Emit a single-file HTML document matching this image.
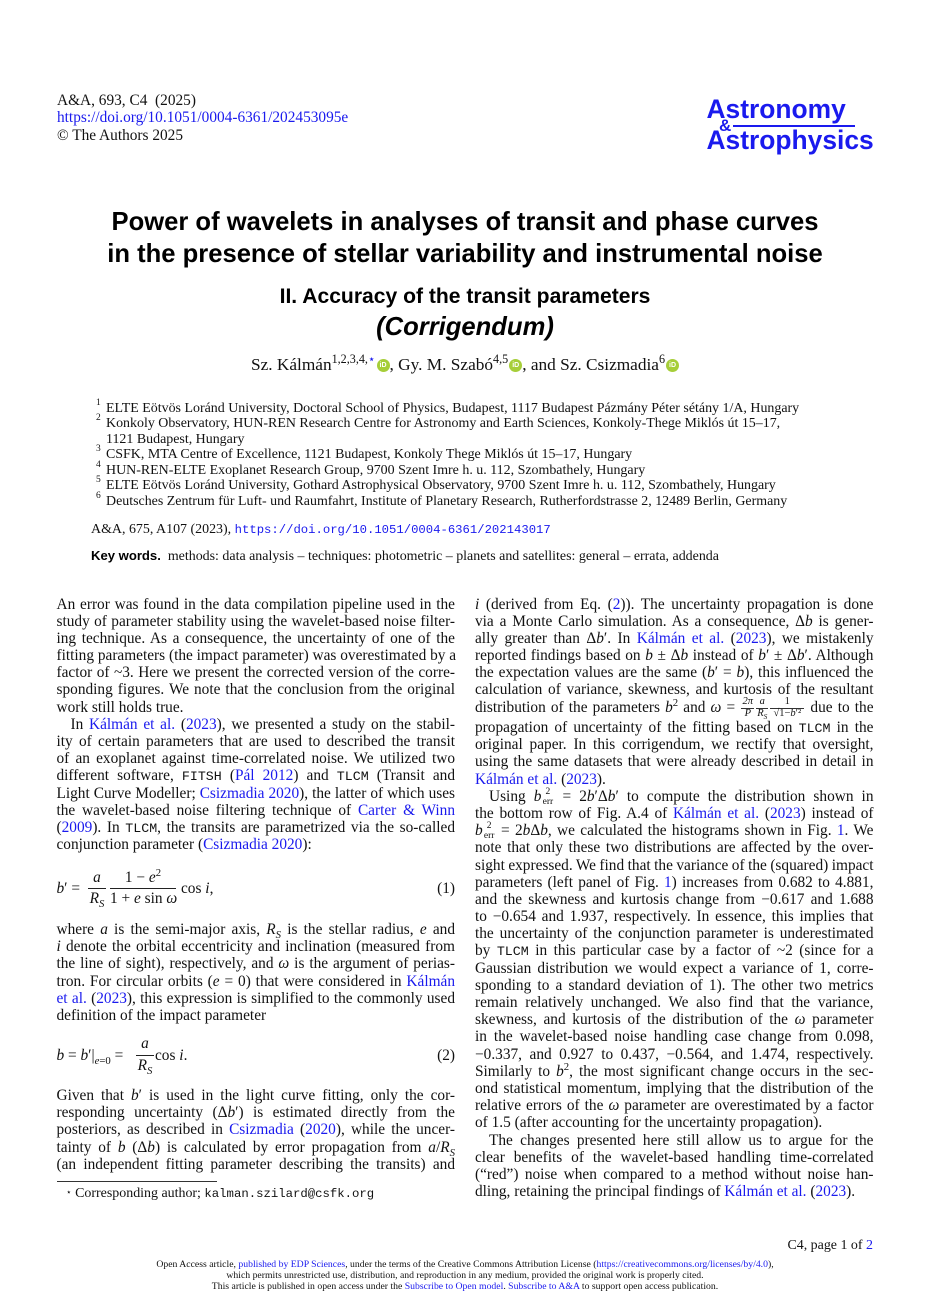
<!DOCTYPE html>
<html><head><meta charset="utf-8"><title>A&amp;A 693, C4</title>
<style>
html,body{margin:0;padding:0;background:#fff}
body{position:relative;width:930px;height:1316px;overflow:hidden;font-family:"Liberation Serif",serif;color:#111;font-size:15.35px}
a,.b{color:#1a1aee;text-decoration:none}
.a{position:absolute;white-space:nowrap;line-height:17px}
.c{left:0;width:930px;text-align:center}
.s{font-family:"Liberation Sans",sans-serif;font-weight:bold}
.col{position:absolute;width:398.5px}
.col div{height:17.19px;line-height:17.19px;white-space:nowrap;text-align:justify;text-align-last:justify}
.col div.e{text-align-last:left}
.col div.in{text-indent:0;padding-left:14px;width:384.5px}
tt{font-family:"Liberation Mono",monospace;font-size:13.3px}
sup,sub{font-size:.7em;line-height:0}
.f{display:inline-block;position:relative;height:0;vertical-align:baseline;text-indent:0;margin:0 1px}
.f>span{position:absolute;left:0;right:0;text-align:center;text-align-last:center;line-height:10px;font-size:10.5px}
.f>span.n{top:-14.5px}
.f>span.d{top:-3px}
.f>span.m{top:-4px;height:1px;background:#333}
.f>span.t{top:-14px;font-size:9.5px}
.f>span.u{top:-4px;font-size:9.5px}
.r{position:absolute;background:#222;height:1px}
.aff{font-size:13.95px}
.oc{display:inline-block;width:13px;height:13px;overflow:hidden;border-radius:50%;background:#a6ce39;vertical-align:-2px;margin-left:1px;color:#fff;font:bold 7px/13px "Liberation Sans",sans-serif;text-align:center}
.ft{font-size:9.73px;line-height:11px}
</style></head><body>

<div class="a" style="left:57px;top:91.5px">A&amp;A, 693, C4&nbsp; (2025)</div>
<div class="a" style="left:57px;top:109px"><a>https://doi.org/10.1051/0004-6361/202453095e</a></div>
<div class="a" style="left:57px;top:126.5px">© The Authors 2025</div>

<div class="a s b" style="left:706.5px;top:94px;font-size:26.4px;line-height:30px">Astronomy</div>
<div class="a s b" style="left:719px;top:117px;font-size:17px;line-height:18px">&amp;</div>
<div class="r" style="left:733px;top:124.5px;width:122px;height:2px;background:#1a1aee"></div>
<div class="a s b" style="left:706.5px;top:125px;font-size:26.4px;line-height:30px">Astrophysics</div>

<div class="a c s" style="top:207px;font-size:25.6px;line-height:30px;font-weight:bold;color:#000">Power of wavelets in analyses of transit and phase curves</div>
<div class="a c s" style="top:239px;font-size:25.6px;line-height:30px;color:#000">in the presence of stellar variability and instrumental noise</div>
<div class="a c s" style="top:285px;font-size:21.1px;line-height:24px;color:#000">II. Accuracy of the transit parameters</div>
<div class="a c s" style="top:312px;font-size:25.6px;line-height:30px;font-style:italic;color:#000">(Corrigendum)</div>

<div class="a c" style="top:356px;font-size:17.3px;line-height:18px">Sz. Kálmán<sup>1,2,3,4,<span class="b">⋆</span></sup><span class="oc">iD</span>, Gy. M. Szabó<sup>4,5</sup><span class="oc">iD</span>, and Sz. Csizmadia<sup>6</sup><span class="oc">iD</span></div>

<div class="aff">
<div class="a" style="left:96px;top:395px;font-size:9.5px">1</div><div class="a" style="left:106px;top:399.5px">ELTE Eötvös Loránd University, Doctoral School of Physics, Budapest, 1117 Budapest Pázmány Péter sétány 1/A, Hungary</div>
<div class="a" style="left:96px;top:410px;font-size:9.5px">2</div><div class="a" style="left:106px;top:415px">Konkoly Observatory, HUN-REN Research Centre for Astronomy and Earth Sciences, Konkoly-Thege Miklós út 15–17,</div>
<div class="a" style="left:106px;top:430.5px">1121 Budapest, Hungary</div>
<div class="a" style="left:96px;top:441px;font-size:9.5px">3</div><div class="a" style="left:106px;top:446px">CSFK, MTA Centre of Excellence, 1121 Budapest, Konkoly Thege Miklós út 15–17, Hungary</div>
<div class="a" style="left:96px;top:457px;font-size:9.5px">4</div><div class="a" style="left:106px;top:461.5px">HUN-REN-ELTE Exoplanet Research Group, 9700 Szent Imre h. u. 112, Szombathely, Hungary</div>
<div class="a" style="left:96px;top:472px;font-size:9.5px">5</div><div class="a" style="left:106px;top:477px">ELTE Eötvös Loránd University, Gothard Astrophysical Observatory, 9700 Szent Imre h. u. 112, Szombathely, Hungary</div>
<div class="a" style="left:96px;top:488px;font-size:9.5px">6</div><div class="a" style="left:106px;top:492.5px">Deutsches Zentrum für Luft- und Raumfahrt, Institute of Planetary Research, Rutherfordstrasse 2, 12489 Berlin, Germany</div>
<div class="a" style="left:91px;top:521px">A&amp;A, 675, A107 (2023), <a style="font-family:'Liberation Mono',monospace;font-size:12.25px">https://doi.org/10.1051/0004-6361/202143017</a></div>
<div class="a" style="left:91px;top:546.5px"><span class="s" style="font-size:13.1px;color:#000">Key words.</span>&nbsp; methods: data analysis – techniques: photometric – planets and satellites: general – errata, addenda</div>
</div>

<div class="col" style="left:56.5px;top:595.5px">
<div>An error was found in the data compilation pipeline used in the</div>
<div>study of parameter stability using the wavelet-based noise filter-</div>
<div>ing technique. As a consequence, the uncertainty of one of the</div>
<div>fitting parameters (the impact parameter) was overestimated by a</div>
<div>factor of ~3. Here we present the corrected version of the corre-</div>
<div>sponding figures. We note that the conclusion from the original</div>
<div class="e">work still holds true.</div>
<div class="in">In <a>Kálmán et al.</a> (<a>2023</a>), we presented a study on the stabil-</div>
<div>ity of certain parameters that are used to described the transit</div>
<div>of an exoplanet against time-correlated noise. We utilized two</div>
<div>different software, <tt>FITSH</tt> (<a>Pál 2012</a>) and <tt>TLCM</tt> (Transit and</div>
<div>Light Curve Modeller; <a>Csizmadia 2020</a>), the latter of which uses</div>
<div>the wavelet-based noise filtering technique of <a>Carter &amp; Winn</a></div>
<div>(<a>2009</a>). In <tt>TLCM</tt>, the transits are parametrized via the so-called</div>
<div class="e">conjunction parameter (<a>Csizmadia 2020</a>):</div>
</div>

<!-- eq 1 -->
<div class="a" style="left:56.5px;top:879.5px"><i>b</i>′ =</div>
<div class="a" style="left:85px;width:24px;text-align:center;top:869px"><i>a</i></div>
<div class="r" style="left:88px;top:888px;width:18px"></div>
<div class="a" style="left:85px;width:24px;text-align:center;top:890px"><i>R<sub>S</sub></i></div>
<div class="a" style="left:110px;width:66px;text-align:center;top:869px">1 − <i>e</i><sup>2</sup></div>
<div class="r" style="left:110px;top:888px;width:66px"></div>
<div class="a" style="left:110px;width:66px;text-align:center;top:890px">1 + <i>e</i> sin <i>ω</i></div>
<div class="a" style="left:181px;top:879.5px">cos <i>i</i>,</div>
<div class="a" style="right:475px;top:879.5px">(1)</div>

<div class="col" style="left:56.5px;top:921px">
<div>where <i>a</i> is the semi-major axis, <i>R<sub>S</sub></i> is the stellar radius, <i>e</i> and</div>
<div><i>i</i> denote the orbital eccentricity and inclination (measured from</div>
<div>the line of sight), respectively, and <i>ω</i> is the argument of perias-</div>
<div>tron. For circular orbits (<i>e</i> = 0) that were considered in <a>Kálmán</a></div>
<div><a>et al.</a> (<a>2023</a>), this expression is simplified to the commonly used</div>
<div class="e">definition of the impact parameter</div>
</div>

<!-- eq 2 -->
<div class="a" style="left:56.5px;top:1046.5px"><i>b</i> = <i>b</i>′|<sub><i>e</i>=0</sub> =</div>
<div class="a" style="left:133px;width:24px;text-align:center;top:1035px"><i>a</i></div>
<div class="r" style="left:136px;top:1055px;width:18px"></div>
<div class="a" style="left:133px;width:24px;text-align:center;top:1057px"><i>R<sub>S</sub></i></div>
<div class="a" style="left:155px;top:1046.5px">cos <i>i</i>.</div>
<div class="a" style="right:475px;top:1046.5px">(2)</div>

<div class="col" style="left:56.5px;top:1087px">
<div>Given that <i>b</i>′ is used in the light curve fitting, only the cor-</div>
<div>responding uncertainty (Δ<i>b</i>′) is estimated directly from the</div>
<div>posteriors, as described in <a>Csizmadia</a> (<a>2020</a>), while the uncer-</div>
<div>tainty of <i>b</i> (Δ<i>b</i>) is calculated by error propagation from <i>a</i>/<i>R<sub>S</sub></i></div>
<div>(an independent fitting parameter describing the transits) and</div>
</div>

<div class="r" style="left:56.5px;top:1181px;width:160px;background:#333"></div>
<div class="a" style="left:66px;top:1184px;font-size:13.95px"><span style="font-size:9px;vertical-align:2px">⋆</span> Corresponding author; <tt style="font-size:12.3px">kalman.szilard@csfk.org</tt></div>

<div class="col" style="left:475px;top:595.5px">
<div><i>i</i> (derived from Eq. (<a>2</a>)). The uncertainty propagation is done</div>
<div>via a Monte Carlo simulation. As a consequence, Δ<i>b</i> is gener-</div>
<div>ally greater than Δ<i>b</i>′. In <a>Kálmán et al.</a> (<a>2023</a>), we mistakenly</div>
<div>reported findings based on <i>b</i> ± Δ<i>b</i> instead of <i>b</i>′ ± Δ<i>b</i>′. Although</div>
<div>the expectation values are the same (<i>b</i>′ = <i>b</i>), this influenced the</div>
<div>calculation of variance, skewness, and kurtosis of the resultant</div>
<div>distribution of the parameters <i>b</i><sup>2</sup> and <i>ω</i> = <span class="f" style="width:13px"><span class="n"><i>2π</i></span><span class="m"></span><span class="d"><i>P</i></span></span><span class="f" style="width:12px"><span class="n"><i>a</i></span><span class="m"></span><span class="d"><i>R<sub>S</sub></i></span></span><span class="f" style="width:34px"><span class="n">1</span><span class="m"></span><span class="d">√1−<i>b</i>′²</span></span> due to the</div>
</div>

<div class="col" style="left:475px;top:719px">
<div>propagation of uncertainty of the fitting based on <tt>TLCM</tt> in the</div>
<div>original paper. In this corrigendum, we rectify that oversight,</div>
<div>using the same datasets that were already described in detail in</div>
<div class="e"><a>Kálmán et al.</a> (<a>2023</a>).</div>
<div class="in">Using <i>b</i><span class="f" style="width:13px;margin:0"><span class="t">2</span><span class="u">err</span></span> = 2<i>b</i>′Δ<i>b</i>′ to compute the distribution shown in</div>
<div>the bottom row of Fig. A.4 of <a>Kálmán et al.</a> (<a>2023</a>) instead of</div>
<div><i>b</i><span class="f" style="width:13px;margin:0"><span class="t">2</span><span class="u">err</span></span> = 2<i>b</i>Δ<i>b</i>, we calculated the histograms shown in Fig. <a>1</a>. We</div>
<div>note that only these two distributions are affected by the over-</div>
<div style="word-spacing:-.5px">sight expressed. We find that the variance of the (squared) impact</div>
<div>parameters (left panel of Fig. <a>1</a>) increases from 0.682 to 4.881,</div>
<div>and the skewness and kurtosis change from −0.617 and 1.688</div>
<div>to −0.654 and 1.937, respectively. In essence, this implies that</div>
<div>the uncertainty of the conjunction parameter is underestimated</div>
<div>by <tt>TLCM</tt> in this particular case by a factor of ~2 (since for a</div>
<div>Gaussian distribution we would expect a variance of 1, corre-</div>
<div>sponding to a standard deviation of 1). The other two metrics</div>
<div>remain relatively unchanged. We also find that the variance,</div>
<div>skewness, and kurtosis of the distribution of the <i>ω</i> parameter</div>
<div>in the wavelet-based noise handling case change from 0.098,</div>
<div>−0.337, and 0.927 to 0.437, −0.564, and 1.474, respectively.</div>
<div>Similarly to <i>b</i><sup>2</sup>, the most significant change occurs in the sec-</div>
<div>ond statistical momentum, implying that the distribution of the</div>
<div>relative errors of the <i>ω</i> parameter are overestimated by a factor</div>
<div class="e">of 1.5 (after accounting for the uncertainty propagation).</div>
<div class="in">The changes presented here still allow us to argue for the</div>
<div>clear benefits of the wavelet-based handling time-correlated</div>
<div>(“red”) noise when compared to a method without noise han-</div>
<div class="e">dling, retaining the principal findings of <a>Kálmán et al.</a> (<a>2023</a>).</div>
</div>

<div class="a" style="right:57px;top:1237px;font-size:13.95px">C4, page 1 of <a>2</a></div>
<div class="a c ft" style="top:1258.5px">Open Access article, <a>published by EDP Sciences</a>, under the terms of the Creative Commons Attribution License (<a>https://creativecommons.org/licenses/by/4.0</a>),</div>
<div class="a c ft" style="top:1269.5px">which permits unrestricted use, distribution, and reproduction in any medium, provided the original work is properly cited.</div>
<div class="a c ft" style="top:1280.5px">This article is published in open access under the <a>Subscribe to Open model</a>. <a>Subscribe to A&amp;A</a> to support open access publication.</div>

</body></html>
